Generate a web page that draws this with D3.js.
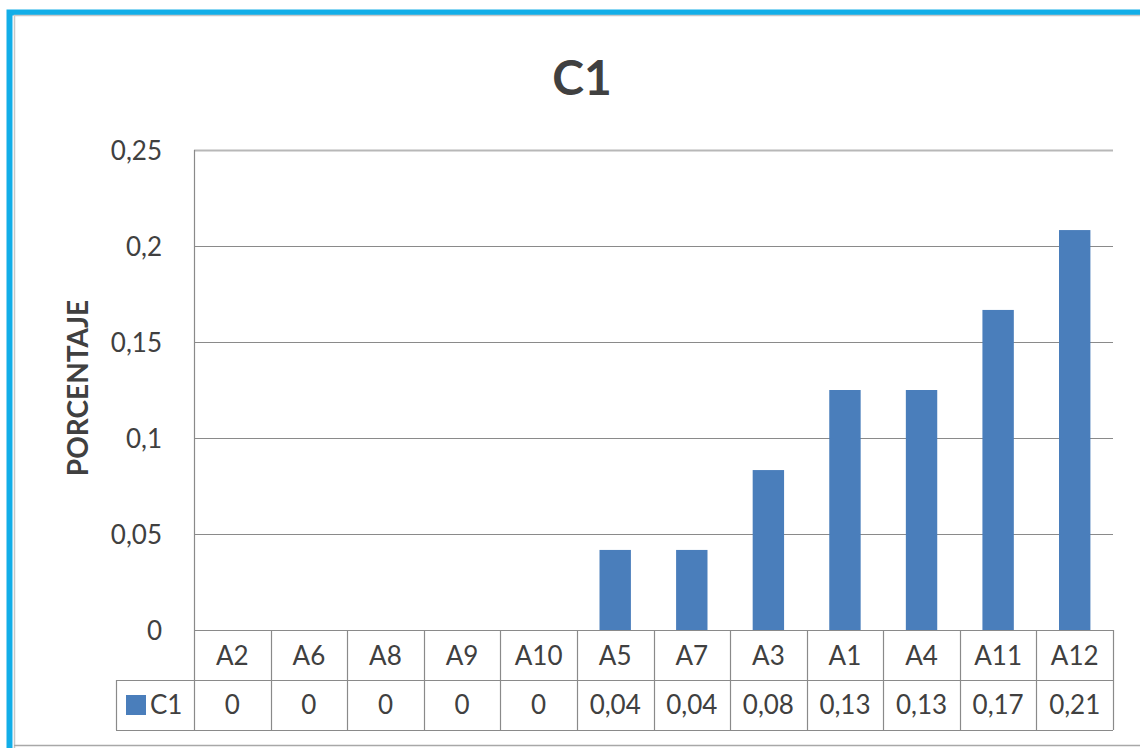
<!DOCTYPE html>
<html>
<head>
<meta charset="utf-8">
<script src="https://cdn.jsdelivr.net/npm/d3@7"></script>
<style>
  html, body { margin: 0; padding: 0; background: #fff; }
  svg { display: block; }
  text { font-family: Lato, "Open Sans", sans-serif; fill: #404040; }
</style>
</head>
<body>
<svg id="chart" width="1140" height="748"></svg>
<script>
// Share of C1 by item, sorted ascending
const categories = ["A2", "A6", "A8", "A9", "A10", "A5", "A7", "A3", "A1", "A4", "A11", "A12"];
const c1Values = [0, 0, 0, 0, 0, 0.0417, 0.0417, 0.0833, 0.125, 0.125, 0.1667, 0.2083];
const yTicks = [0, 0.05, 0.1, 0.15, 0.2, 0.25];
const seriesName = "C1";
const chartTitle = "C1";
const yTitle = "PORCENTAJE";

const W = 1140, H = 748;
const svg = d3.select("#chart");

// Chart frame: blue outer border with a thin grey inner edge
svg.append("rect").attr("x", 9.5).attr("y", 12.5).attr("width", W + 20).attr("height", H + 20)
  .attr("fill", "#fff").attr("stroke", "#12aee8").attr("stroke-width", 6);
svg.append("path").attr("d", `M14.5,${H} V15.5 H${W}`)
  .attr("fill", "none").attr("stroke", "#c8c8c8").attr("stroke-width", 1.5);
svg.append("line").attr("x1", 14).attr("x2", W).attr("y1", 745.5).attr("y2", 745.5)
  .attr("stroke", "#a8a8a8").attr("stroke-width", 1.5);

const plot = { left: 194, right: 1113, top: 150, bottom: 630 };
const rowH = 50;
const fs = 26;

const x = d3.scaleBand().domain(categories).range([plot.left, plot.right]).paddingInner(0).paddingOuter(0);
const y = d3.scaleLinear().domain([0, 0.25]).range([plot.bottom, plot.top]);
const fmt = v => d3.format(".2f")(v).replace(".", ",").replace(/^0,00$/, "0");
const tickFmt = v => String(v).replace(".", ",");

// Gridlines
const grid = svg.append("g");
grid.selectAll("line").data(yTicks.filter(t => t > 0)).join("line")
  .attr("x1", plot.left).attr("x2", plot.right)
  .attr("y1", d => Math.round(y(d)) + 0.5).attr("y2", d => Math.round(y(d)) + 0.5)
  .attr("stroke", d => d === 0.25 ? "#b8b8b8" : "#8a8a8a")
  .attr("stroke-width", d => d === 0.25 ? 2 : 1.2);

// Y axis with tick labels
const yAxis = d3.axisLeft(y).tickValues(yTicks).tickFormat(tickFmt).tickSize(0).tickPadding(32);
const yg = svg.append("g").attr("transform", `translate(${plot.left},0)`).call(yAxis);
yg.select(".domain").remove();
yg.selectAll("text").attr("font-size", fs).attr("font-family", "Lato, sans-serif").attr("fill", "#404040")
  .attr("dy", "0.36em");
svg.append("line").attr("x1", plot.left + 0.5).attr("x2", plot.left + 0.5)
  .attr("y1", plot.top).attr("y2", plot.bottom + 2 * rowH)
  .attr("stroke", "#8a8a8a").attr("stroke-width", 1.2);

// Bars
const barW = x.bandwidth() * 0.41;
svg.append("g").selectAll("rect").data(categories.map((c, i) => ({ c, v: c1Values[i] })))
  .join("rect")
  .attr("x", d => x(d.c) + (x.bandwidth() - barW) / 2)
  .attr("y", d => y(d.v))
  .attr("width", barW)
  .attr("height", d => y(0) - y(d.v))
  .attr("fill", "#4a7ebb");

// Data table under the plot
const tbl = svg.append("g");
const lineColor = "#8a8a8a";
tbl.append("line").attr("x1", plot.left).attr("x2", plot.right)
  .attr("y1", plot.bottom + 0.5).attr("y2", plot.bottom + 0.5).attr("stroke", lineColor).attr("stroke-width", 1.2);
tbl.append("line").attr("x1", 116).attr("x2", plot.right)
  .attr("y1", plot.bottom + rowH + 0.5).attr("y2", plot.bottom + rowH + 0.5).attr("stroke", lineColor).attr("stroke-width", 1.2);
tbl.append("line").attr("x1", 116).attr("x2", plot.right)
  .attr("y1", plot.bottom + 2 * rowH + 0.5).attr("y2", plot.bottom + 2 * rowH + 0.5).attr("stroke", lineColor).attr("stroke-width", 1.2);
tbl.append("line").attr("x1", 116.5).attr("x2", 116.5)
  .attr("y1", plot.bottom + rowH).attr("y2", plot.bottom + 2 * rowH).attr("stroke", lineColor).attr("stroke-width", 1.2);
tbl.selectAll("line.sep").data(categories).join("line").attr("class", "sep")
  .attr("x1", d => Math.round(x(d) + x.bandwidth()) + 0.5).attr("x2", d => Math.round(x(d) + x.bandwidth()) + 0.5)
  .attr("y1", plot.bottom).attr("y2", plot.bottom + 2 * rowH)
  .attr("stroke", lineColor).attr("stroke-width", 1.2);

tbl.selectAll("text.cat").data(categories).join("text").attr("class", "cat")
  .attr("x", d => x(d) + x.bandwidth() / 2).attr("y", plot.bottom + 35)
  .attr("text-anchor", "middle").attr("font-size", fs).text(d => d);
tbl.selectAll("text.val").data(c1Values).join("text").attr("class", "val")
  .attr("x", (d, i) => x(categories[i]) + x.bandwidth() / 2).attr("y", plot.bottom + rowH + 34)
  .attr("text-anchor", "middle").attr("font-size", fs).text(d => fmt(d));

// Legend key in the table's first column
tbl.append("rect").attr("x", 126).attr("y", plot.bottom + rowH + 15).attr("width", 20).attr("height", 20)
  .attr("fill", "#4a7ebb");
tbl.append("text").attr("x", 150).attr("y", plot.bottom + rowH + 34)
  .attr("font-size", fs).text(seriesName);

// Titles
svg.append("text").attr("x", 582).attr("y", 95).attr("text-anchor", "middle")
  .attr("font-size", 48).attr("font-weight", "bold").attr("fill", "#000").text(chartTitle);
svg.append("text").attr("transform", `translate(88,388) rotate(-90)`).attr("text-anchor", "middle")
  .attr("font-size", 28).attr("font-weight", "bold").attr("fill", "#000").text(yTitle);
</script>
</body>
</html>
